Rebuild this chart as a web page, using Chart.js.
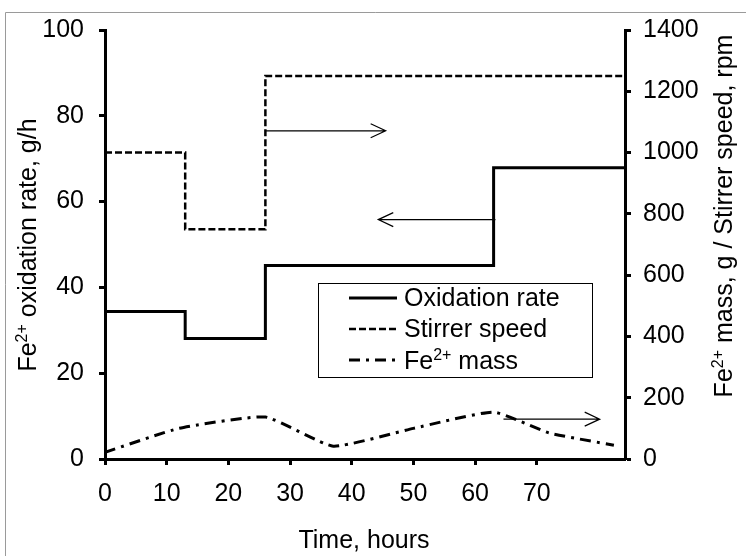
<!DOCTYPE html>
<html>
<head>
<meta charset="utf-8">
<script src="https://cdn.jsdelivr.net/npm/chart.js@4/dist/chart.umd.min.js"></script>
<style>
  body { margin: 0; background: #fff; }
  canvas { display: block; }
</style>
</head>
<body>
<canvas id="chart" width="746" height="556"></canvas>
<script>
// time axis ticks (hours)
var timeTicks = [0, 10, 20, 30, 40, 50, 60, 70];

// oxidation rate, g/h (step changes)
var oxTimes = [0, 13, 26, 63, 84.3];
var oxRate = [34.4, 28.1, 45.1, 67.9, 67.9];

// stirrer speed, rpm (step changes)
var stirTimes = [0, 13, 26, 84.3];
var stirSpeed = [1000, 750, 1250, 1250];

// Fe2+ mass, g
var massTimes = [0, 12, 26, 37, 50, 63, 72, 82.5];
var massValues = [22, 100, 137, 42, 100, 153, 85, 45];

// arrows pointing to the axis each curve belongs to
var arrows = [
  { from: 26, to: 45.5, y: 1071, axis: 'y1' },
  { from: 63.3, to: 44.3, y: 55.8, axis: 'y' },
  { from: 64.6, to: 80.2, y: 130, axis: 'y1' }
];

var FONT = '"Liberation Sans", Arial, sans-serif';
var FS = 25;

function pts(xs, ys) {
  return xs.map(function (x, i) { return { x: x, y: ys[i] }; });
}

// draws "Fe" + superscript "2+" + rest
function supText(ctx, rest, x, y, size, align) {
  var big = size + 'px ' + FONT, small = Math.round(size * 0.62) + 'px ' + FONT;
  ctx.font = big; var w1 = ctx.measureText('Fe').width; var w3 = ctx.measureText(rest).width;
  ctx.font = small; var w2 = ctx.measureText('2+').width;
  var total = w1 + w2 + w3;
  var sx = align === 'center' ? x - total / 2 : x;
  ctx.textAlign = 'left';
  ctx.textBaseline = 'alphabetic';
  ctx.font = big; ctx.fillText('Fe', sx, y);
  ctx.font = small; ctx.fillText('2+', sx + w1, y - size * 0.38);
  ctx.font = big; ctx.fillText(rest, sx + w1 + w2, y);
}

var extras = {
  id: 'extras',
  afterDatasetsDraw: function (chart) {
    var ctx = chart.ctx, xs = chart.scales.x;
    ctx.save();
    ctx.strokeStyle = '#000';
    ctx.lineWidth = 1.2;
    arrows.forEach(function (a) {
      var x0 = xs.getPixelForValue(a.from), x1 = xs.getPixelForValue(a.to);
      var y = chart.scales[a.axis].getPixelForValue(a.y);
      var d = x1 > x0 ? -1 : 1;
      ctx.beginPath();
      ctx.moveTo(x0, y); ctx.lineTo(x1, y);
      ctx.moveTo(x1 + d * 15, y - 7); ctx.lineTo(x1, y); ctx.lineTo(x1 + d * 15, y + 7);
      ctx.stroke();
    });

    // legend
    var bx = 318.5, by = 283.5, bw = 274, bh = 94;
    ctx.fillStyle = '#fff';
    ctx.fillRect(bx, by, bw, bh);
    ctx.lineWidth = 1;
    ctx.strokeRect(bx, by, bw, bh);
    var rows = [
      { y: 298, dash: [], w: 3, label: 'Oxidation rate' },
      { y: 329, dash: [7, 3], w: 2.5, label: 'Stirrer speed' },
      { y: 360, dash: [11, 6, 3, 6], w: 3, label: null }
    ];
    rows.forEach(function (r) {
      ctx.beginPath();
      ctx.setLineDash(r.dash);
      ctx.lineWidth = r.w;
      ctx.moveTo(349, r.y); ctx.lineTo(397, r.y);
      ctx.stroke();
      ctx.setLineDash([]);
      ctx.fillStyle = '#000';
      if (r.label) {
        ctx.font = FS + 'px ' + FONT;
        ctx.textAlign = 'left';
        ctx.textBaseline = 'middle';
        ctx.fillText(r.label, 404, r.y + 1);
      } else {
        supText(ctx, ' mass', 404, r.y + 9, FS, 'left');
      }
    });
    ctx.restore();
  },
  afterDraw: function (chart) {
    var ctx = chart.ctx;
    ctx.save();
    // outer frame
    ctx.strokeStyle = '#9a9a9a';
    ctx.lineWidth = 1;
    ctx.beginPath();
    ctx.moveTo(5.5, 556); ctx.lineTo(5.5, 12.5); ctx.lineTo(746, 12.5);
    ctx.stroke();
    ctx.fillStyle = '#000';
    // x title
    ctx.font = FS + 'px ' + FONT;
    ctx.textAlign = 'center';
    ctx.textBaseline = 'alphabetic';
    ctx.fillText('Time, hours', 364, 548);
    // left title
    ctx.save();
    ctx.translate(36, 245);
    ctx.rotate(-Math.PI / 2);
    supText(ctx, ' oxidation rate, g/h', 0, 0, FS, 'center');
    ctx.restore();
    // right title
    ctx.save();
    ctx.translate(732, 216);
    ctx.rotate(-Math.PI / 2);
    supText(ctx, ' mass, g / Stirrer speed, rpm', 0, 0, FS, 'center');
    ctx.restore();
    ctx.restore();
  }
};

var tickFont = { family: FONT, size: FS };
var axisGrid = { drawOnChartArea: false, drawTicks: true, tickLength: 6, tickWidth: 3, tickColor: '#000' };
var axisBorder = { display: true, color: '#000', width: 3 };
var plain = function (v) { return String(v); };

var config = {
  type: 'line',
  data: {
    datasets: [
      { label: 'Oxidation rate', data: pts(oxTimes, oxRate), yAxisID: 'y',
        borderColor: '#000', borderWidth: 3, stepped: true, pointRadius: 0, fill: false },
      { label: 'Stirrer speed', data: pts(stirTimes, stirSpeed), yAxisID: 'y1',
        borderColor: '#000', borderWidth: 2.5, borderDash: [7, 3], stepped: true, pointRadius: 0, fill: false },
      { label: 'Fe2+ mass', data: pts(massTimes, massValues), yAxisID: 'y1',
        borderColor: '#000', borderWidth: 3, borderDash: [11, 6, 3, 6], tension: 0.15, pointRadius: 0, fill: false }
    ]
  },
  options: {
    responsive: false,
    animation: false,
    layout: { padding: { top: 29, left: 0, right: 0, bottom: 0 } },
    plugins: { legend: { display: false }, tooltip: { enabled: false } },
    scales: {
      x: {
        type: 'linear', min: 0, max: 84.3,
        grid: axisGrid, border: axisBorder,
        ticks: { font: tickFont, color: '#000', padding: 14, maxRotation: 0, callback: plain },
        afterBuildTicks: function (s) { s.ticks = timeTicks.map(function (v) { return { value: v }; }); },
        afterFit: function (s) { s.height = 97; }
      },
      y: {
        position: 'left', min: 0, max: 100,
        grid: axisGrid, border: axisBorder,
        ticks: { font: tickFont, color: '#000', stepSize: 20, padding: 15, callback: plain },
        afterFit: function (s) { s.width = 105; }
      },
      y1: {
        position: 'right', min: 0, max: 1400,
        grid: axisGrid, border: axisBorder,
        ticks: { font: tickFont, color: '#000', stepSize: 200, padding: 12, callback: plain },
        afterFit: function (s) { s.width = 121; }
      }
    }
  },
  plugins: [extras]
};

var chart = new Chart(document.getElementById('chart'), config);
</script>
</body>
</html>
